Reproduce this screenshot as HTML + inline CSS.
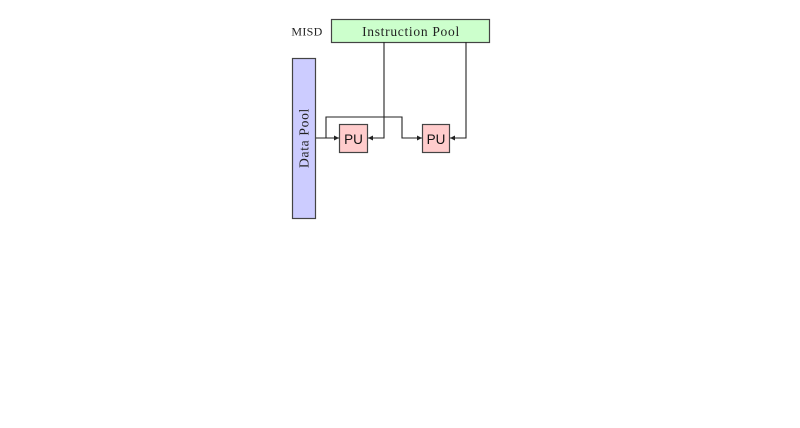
<!DOCTYPE html>
<html><head><meta charset="utf-8"><style>html,body{margin:0;padding:0;background:#fff;}</style></head>
<body>
<svg width="800" height="423" xmlns="http://www.w3.org/2000/svg">
<defs><marker id="a" markerWidth="6" markerHeight="6" refX="5" refY="3" orient="auto" markerUnits="userSpaceOnUse"><path d="M0,0.5 L5,3 L0,5.5 z" fill="#222"/></marker></defs>
<rect x="331.5" y="19.5" width="158" height="23" fill="#ccffcc" stroke="#444" stroke-width="1.2"/>
<text x="411" y="36" font-family="Liberation Serif, serif" font-size="13.5" letter-spacing="0.7" text-anchor="middle" fill="#222">Instruction Pool</text>
<text x="307" y="35.5" font-family="Liberation Serif, serif" font-size="12" letter-spacing="0.3" text-anchor="middle" fill="#222">MISD</text>
<rect x="292.5" y="58.5" width="23" height="160" fill="#ccccff" stroke="#444" stroke-width="1.2"/>
<text transform="translate(308.5,138) rotate(-90)" font-family="Liberation Serif, serif" font-size="13.5" letter-spacing="0.7" text-anchor="middle" fill="#222">Data Pool</text>
<rect x="339.5" y="124.5" width="28" height="28" fill="#ffcccc" stroke="#444" stroke-width="1.2"/>
<text x="353.5" y="144" font-family="Liberation Sans, sans-serif" font-size="13.5" text-anchor="middle" fill="#111">PU</text>
<rect x="422.5" y="124.5" width="27" height="28" fill="#ffcccc" stroke="#444" stroke-width="1.2"/>
<text x="436" y="144" font-family="Liberation Sans, sans-serif" font-size="13.5" text-anchor="middle" fill="#111">PU</text>
<g fill="none" stroke="#222" stroke-width="1.1">
<path d="M316,138 H339" marker-end="url(#a)"/>
<path d="M384,42 V138 H368" marker-end="url(#a)"/>
<path d="M466,42 V138 H450" marker-end="url(#a)"/>
<path d="M326,138 V117 H402 V138 H422" marker-end="url(#a)"/>
</g>
</svg>
</body></html>
